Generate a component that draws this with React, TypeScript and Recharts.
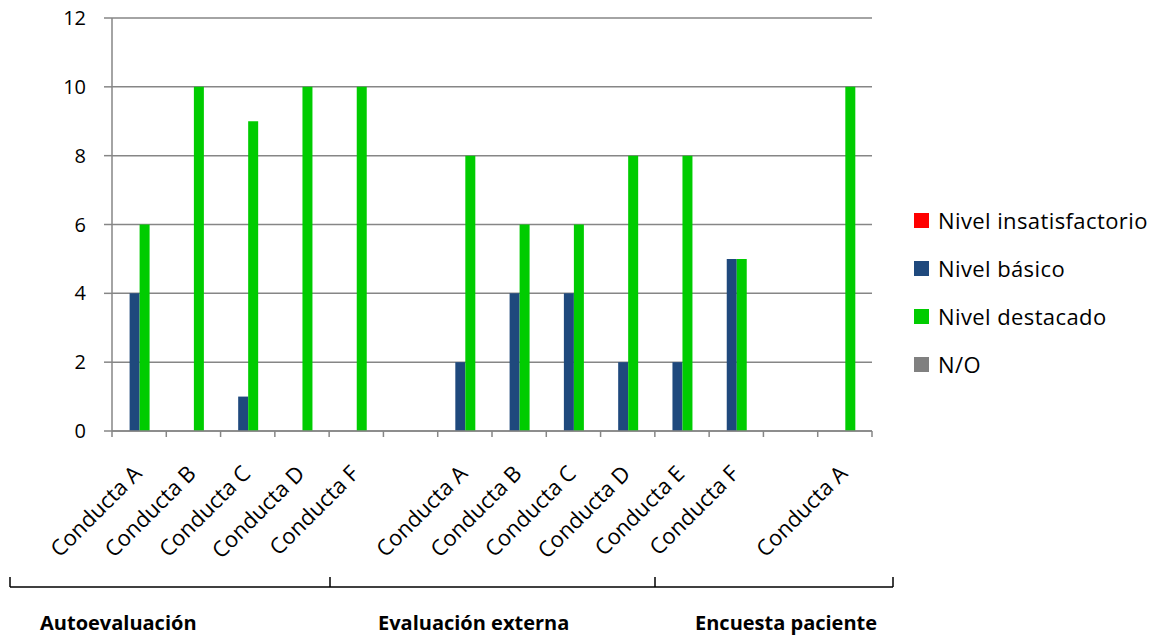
import { BarChart, Bar, XAxis, YAxis, CartesianGrid, Legend } from 'recharts'

const categories = [
  'Conducta A', 'Conducta B', 'Conducta C', 'Conducta D', 'Conducta F', '',
  'Conducta A', 'Conducta B', 'Conducta C', 'Conducta D', 'Conducta E', 'Conducta F', '',
  'Conducta A',
]
const insatisfactorio = [0, 0, 0, 0, 0, 0, 0, 0, 0, 0, 0, 0, 0, 0]
const basico = [4, 0, 1, 0, 0, 0, 2, 4, 4, 2, 2, 5, 0, 0]
const destacado = [6, 10, 9, 10, 10, 0, 8, 6, 6, 8, 8, 5, 0, 10]
const noObservado = [0, 0, 0, 0, 0, 0, 0, 0, 0, 0, 0, 0, 0, 0]
const yTicks = [0, 2, 4, 6, 8, 10, 12]

const groupLabels = ['Autoevaluación', 'Evaluación externa', 'Encuesta paciente']
// bracket edges and label starts for the grouping row under the axis
const bracketEdges = [10, 330, 655, 893]
const groupLabelX = [40, 378, 695]

const series = [
  { key: 'insatisfactorio', name: 'Nivel insatisfactorio', color: '#ff0000' },
  { key: 'basico', name: 'Nivel básico', color: '#1f497d' },
  { key: 'destacado', name: 'Nivel destacado', color: '#00cc00' },
  { key: 'noObservado', name: 'N/O', color: '#808080' },
]

const data = categories.map((name, i) => ({
  name,
  insatisfactorio: insatisfactorio[i],
  basico: basico[i],
  destacado: destacado[i],
  noObservado: noObservado[i],
}))

const FONT = '"Open Sans", Lato, sans-serif'
const AXIS = '#868686'

function CategoryTick(props: any) {
  const { x, y, payload, index } = props
  const half = payload?.offset ?? 27
  const tx = x + 4
  const ty = y + 44
  return (
    <g>
      <line x1={x - half} y1={y} x2={x - half} y2={y + 6} stroke={AXIS} strokeWidth={1.5} />
      {index === categories.length - 1 && (
        <line x1={x + half} y1={y} x2={x + half} y2={y + 6} stroke={AXIS} strokeWidth={1.5} />
      )}
      <text
        x={tx}
        y={ty}
        transform={`rotate(-45, ${tx}, ${ty})`}
        textAnchor="end"
        fill="#000"
        fontSize={22}
        fontFamily={FONT}
      >
        {payload.value}
      </text>
    </g>
  )
}

function LegendList() {
  return (
    <div style={{ fontFamily: FONT, fontSize: 22, color: '#000', letterSpacing: 0.4 }}>
      {series.map(s => (
        <div key={s.key} style={{ display: 'flex', alignItems: 'center', height: 48 }}>
          <span style={{ width: 15, height: 15, background: s.color, marginRight: 9 }} />
          <span>{s.name}</span>
        </div>
      ))}
    </div>
  )
}

function GroupBrackets() {
  const y = 587
  return (
    <g>
      <line x1={bracketEdges[0]} y1={y} x2={bracketEdges[bracketEdges.length - 1]} y2={y} stroke="#000" strokeWidth={1.5} />
      {bracketEdges.map(bx => (
        <line key={bx} x1={bx} y1={y - 10} x2={bx} y2={y} stroke="#000" strokeWidth={1.5} />
      ))}
      {groupLabels.map((label, i) => (
        <text key={label} x={groupLabelX[i]} y={630} fontSize={20} fontWeight="bold" fontFamily={FONT} fill="#000">
          {label}
        </text>
      ))}
    </g>
  )
}

export default function App() {
  return (
    <div style={{ position: 'absolute', left: 0, top: 0, width: 1156, height: 635, background: '#fff' }}>
      <BarChart
        width={1156}
        height={635}
        data={data}
        margin={{ top: 18, right: 284, left: 52, bottom: 84 }}
        barCategoryGap="14%"
        barGap={0}
      >
        <CartesianGrid vertical={false} stroke={AXIS} strokeWidth={1.5} />
        <XAxis
          dataKey="name"
          interval={0}
          height={120}
          tickLine={false}
          tickSize={0}
          tickMargin={0}
          stroke={AXIS}
          strokeWidth={1.5}
          tick={<CategoryTick />}
        />
        <YAxis
          domain={[0, 12]}
          ticks={yTicks}
          width={60}
          tickSize={8}
          tickMargin={18}
          stroke={AXIS}
          strokeWidth={1.5}
          tick={{ fill: '#000', fontSize: 20, fontFamily: FONT }}
        />
        <Legend
          layout="horizontal"
          verticalAlign="middle"
          align="center"
          content={<LegendList />}
          wrapperStyle={{ left: 914, top: 196, width: 242 }}
        />
        {series.map(s => (
          <Bar key={s.key} dataKey={s.key} name={s.name} fill={s.color} isAnimationActive={false} />
        ))}
        <GroupBrackets />
      </BarChart>
    </div>
  )
}
